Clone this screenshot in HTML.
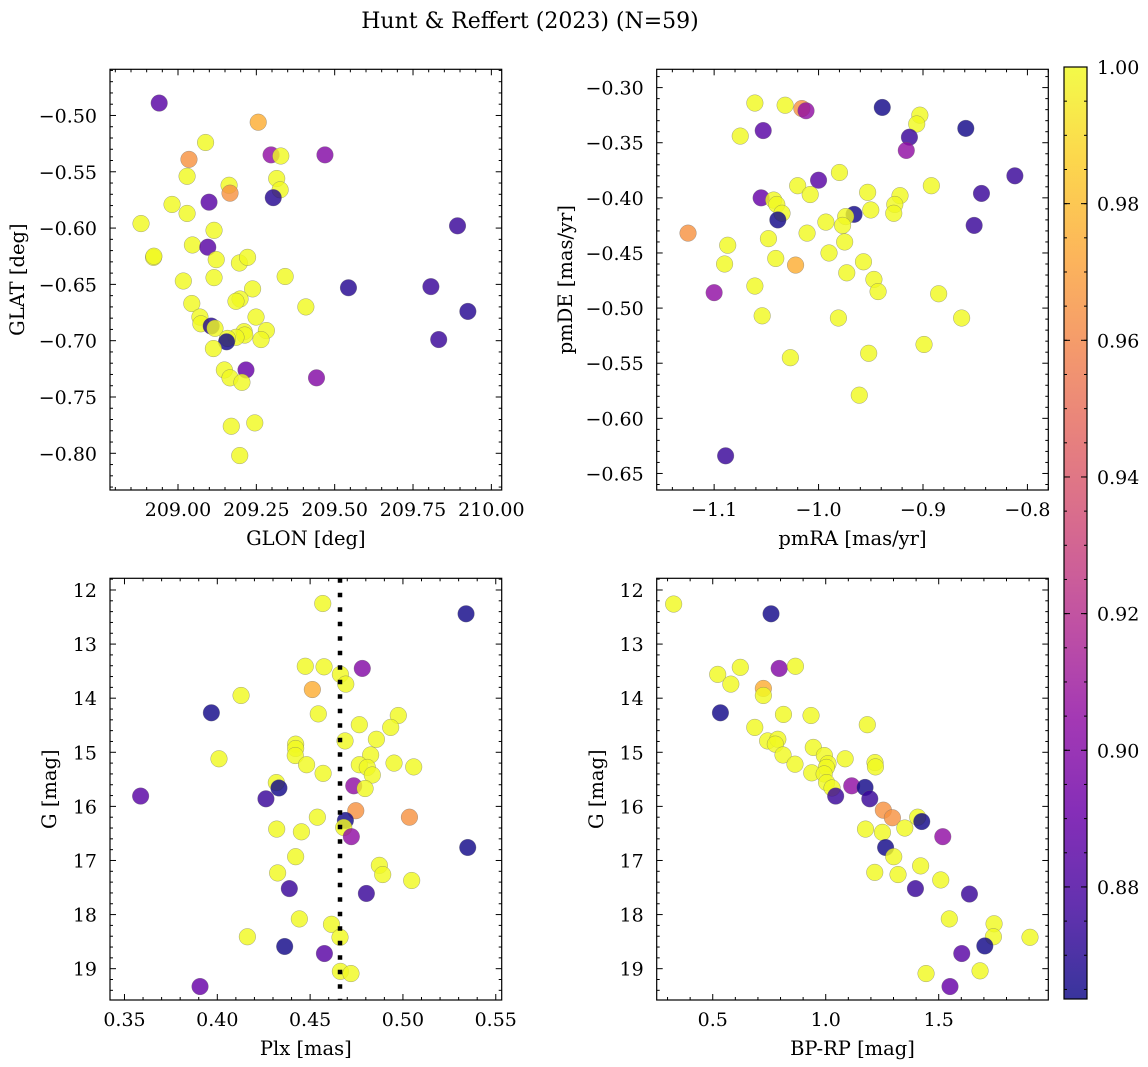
<!DOCTYPE html>
<html><head><meta charset="utf-8"><style>
html,body{margin:0;padding:0;background:#fff;}
svg{display:block;font-family:"DejaVu Serif","Liberation Serif",serif;}
</style></head><body>
<svg id="fig" width="1148" height="1067" viewBox="0 0 1148 1067" xmlns="http://www.w3.org/2000/svg">
<text x="530" y="28" font-size="22" text-anchor="middle">Hunt &amp; Reffert (2023) (N=59)</text>
</svg>
<script>
// ---- data: GLON / GLAT panel ----
const tlGlon=[208.940,209.256,209.088,209.035,209.297,209.328,209.469,209.029,209.315,209.163,209.166,209.326,209.304,209.099,208.981,209.029,208.882,209.115,209.892,209.046,209.095,208.922,209.122,209.196,209.222,209.115,209.017,209.342,209.544,209.807,209.238,209.198,209.185,209.044,209.408,209.925,209.249,209.070,209.073,209.106,209.118,209.282,209.211,209.213,209.185,209.158,209.155,209.265,209.832,209.113,209.148,209.217,209.166,209.204,209.442,209.170,209.245,209.197,208.923];
const tlGlat=[-0.489,-0.506,-0.524,-0.539,-0.535,-0.536,-0.535,-0.554,-0.556,-0.562,-0.569,-0.566,-0.573,-0.577,-0.579,-0.587,-0.596,-0.602,-0.598,-0.615,-0.617,-0.626,-0.628,-0.631,-0.626,-0.644,-0.647,-0.643,-0.653,-0.652,-0.654,-0.663,-0.665,-0.667,-0.670,-0.674,-0.679,-0.679,-0.685,-0.687,-0.689,-0.691,-0.692,-0.695,-0.697,-0.698,-0.701,-0.699,-0.699,-0.707,-0.726,-0.726,-0.733,-0.737,-0.733,-0.776,-0.773,-0.802,-0.625];
const tlProb=[0.885,0.975,1,0.965,0.905,1,0.9,1,1,1,0.965,1,0.87,0.885,1,1,1,1,0.875,1,0.885,1,1,1,1,1,1,1,0.87,0.875,1,1,1,1,1,0.87,1,1,1,0.87,1,1,1,1,1,1,0.865,1,0.875,1,1,0.89,1,1,0.9,1,1,1,1];
// ---- data: pmRA / pmDE panel ----
const trPmra=[-1.061,-1.032,-1.016,-1.012,-0.939,-0.903,-0.906,-1.075,-1.053,-0.913,-0.859,-0.916,-0.980,-1.000,-0.812,-1.020,-0.892,-1.008,-0.953,-0.844,-1.055,-1.043,-1.040,-0.922,-0.927,-1.035,-1.039,-0.928,-0.950,-0.966,-0.974,-0.977,-0.993,-0.851,-1.125,-1.011,-1.048,-0.975,-1.087,-0.990,-1.041,-1.090,-1.022,-0.957,-0.973,-0.947,-0.943,-1.061,-1.100,-0.885,-1.054,-0.981,-0.863,-0.899,-1.027,-0.952,-0.961,-1.089];
const trPmde=[-0.314,-0.316,-0.319,-0.321,-0.318,-0.325,-0.333,-0.344,-0.339,-0.345,-0.337,-0.357,-0.377,-0.384,-0.380,-0.389,-0.389,-0.397,-0.395,-0.396,-0.400,-0.402,-0.406,-0.398,-0.406,-0.414,-0.420,-0.414,-0.411,-0.415,-0.417,-0.425,-0.422,-0.425,-0.432,-0.432,-0.437,-0.440,-0.443,-0.450,-0.455,-0.460,-0.461,-0.458,-0.468,-0.474,-0.485,-0.480,-0.486,-0.487,-0.507,-0.509,-0.509,-0.533,-0.545,-0.541,-0.579,-0.634];
const trProb=[1,1,0.965,0.905,0.865,1,1,1,0.885,0.875,0.865,0.905,1,0.885,0.875,1,1,1,1,0.875,0.89,1,1,1,1,1,0.865,1,1,0.865,1,1,1,0.875,0.965,1,1,1,1,1,1,1,0.975,1,1,1,1,1,0.905,1,1,1,1,1,1,1,1,0.875];
// ---- data: Plx / G panel ----
const blPlx=[0.4568,0.5340,0.4474,0.4575,0.4781,0.4663,0.4692,0.4512,0.4128,0.3968,0.4544,0.4975,0.4765,0.4934,0.4688,0.4857,0.4422,0.4422,0.4420,0.4826,0.4009,0.4481,0.4765,0.4808,0.4952,0.5058,0.4835,0.4570,0.4318,0.4332,0.4735,0.4796,0.3587,0.4262,0.4746,0.5035,0.4539,0.4690,0.4681,0.4320,0.4453,0.4722,0.5349,0.4422,0.4873,0.4891,0.4325,0.5047,0.4388,0.4803,0.4442,0.4615,0.4162,0.4661,0.4363,0.4577,0.4663,0.4720,0.3907];
const blG=[12.25,12.44,13.41,13.42,13.45,13.56,13.74,13.84,13.95,14.27,14.29,14.32,14.49,14.54,14.79,14.76,14.85,14.93,15.06,15.05,15.12,15.23,15.23,15.28,15.20,15.27,15.42,15.39,15.56,15.66,15.62,15.67,15.81,15.86,16.08,16.20,16.20,16.26,16.39,16.42,16.47,16.56,16.76,16.93,17.09,17.26,17.23,17.37,17.52,17.61,18.08,18.18,18.41,18.42,18.59,18.72,19.05,19.09,19.33];
const blProb=[1,0.865,1,1,0.9,1,1,0.975,1,0.865,1,1,1,1,1,1,1,1,1,1,1,1,1,1,1,1,1,1,1,0.865,0.905,1,0.885,0.875,0.965,0.965,1,0.865,1,1,1,0.905,0.865,1,1,1,1,1,0.875,0.875,1,1,1,1,0.865,0.885,1,1,0.89];
const plxMean=[0.4661];
// ---- data: BP-RP / G panel ----
const brBprp=[0.327,0.758,0.522,0.580,0.622,0.794,0.866,0.724,0.724,0.534,0.813,0.935,1.184,0.686,0.743,0.788,0.777,0.811,0.864,0.945,0.994,1.086,1.010,1.003,1.218,1.220,0.938,0.993,1.004,1.028,1.044,1.115,1.174,1.195,1.255,1.295,1.407,1.425,1.176,1.251,1.350,1.518,1.265,1.301,1.420,1.217,1.320,1.509,1.397,1.636,1.547,1.745,1.742,1.904,1.704,1.602,1.444,1.683,1.550];
const brG=[12.26,12.44,13.56,13.74,13.43,13.45,13.41,13.82,13.95,14.27,14.30,14.32,14.49,14.54,14.79,14.76,14.85,15.05,15.22,14.91,15.06,15.12,15.21,15.28,15.19,15.27,15.38,15.40,15.56,15.66,15.81,15.62,15.65,15.86,16.07,16.21,16.20,16.28,16.42,16.48,16.40,16.56,16.76,16.93,17.10,17.22,17.26,17.36,17.52,17.62,18.08,18.17,18.41,18.42,18.58,18.72,19.09,19.04,19.33];
const brProb=[1,0.865,1,1,1,0.9,1,0.975,1,0.865,1,1,1,1,1,1,1,1,1,1,1,1,1,1,1,1,1,1,1,1,0.875,0.905,0.865,0.875,0.965,0.965,1,0.865,1,1,1,0.905,0.865,1,1,1,1,1,0.875,0.875,1,1,1,1,0.865,0.885,1,1,0.89];
// ---- colorbar ----
const cbMin=0.8636, cbMax=1.0;
const cbTicks=[0.88,0.90,0.92,0.94,0.96,0.98,1.00];

const NS="http://www.w3.org/2000/svg";
const svg=document.getElementById('fig');
function mk(tag,attrs,parent){const e=document.createElementNS(NS,tag);for(const k in attrs)e.setAttribute(k,attrs[k]);(parent||svg).appendChild(e);return e;}
const stops=[[13,8,135],[65,4,157],[106,0,168],[143,13,164],[177,42,144],[204,71,120],[225,100,98],[242,132,75],[252,166,54],[252,206,37],[240,249,33]];
function plasma(t){t=Math.max(0,Math.min(1,t));const p=t*10,i=Math.min(9,Math.floor(p)),f=p-i;const a=stops[i],b=stops[i+1];return 'rgb('+a.map((v,j)=>Math.round(v+(b[j]-v)*f)).join(',')+')';}
function fmt(v,d){const s=Math.abs(v).toFixed(d);return (v<-1e-9?'\u2212':'')+s;}

function panel(c,xs,ys,cs,name){
  const g=mk('g',{});
  
  
  const X=v=>c.x0+(v-c.xmin)/(c.xmax-c.xmin)*(c.x1-c.x0);
  const Y=v=>c.y0+(v-c.yTop)/(c.yBot-c.yTop)*(c.y1-c.y0);
  for(let i=0;i<xs.length;i++){
    const p=mk('circle',{cx:X(xs[i]),cy:Y(ys[i]),r:8.3,fill:plasma((cs[i]-cbMin)/(cbMax-cbMin)),'fill-opacity':0.82,stroke:'#666','stroke-width':0.5,'stroke-opacity':0.6},g);
    
    
  }
  if(c.vline!==undefined){
    const l=mk('line',{x1:X(c.vline),x2:X(c.vline),y1:c.y0,y2:c.y1,stroke:'#000','stroke-width':4.5,'stroke-dasharray':'4.5 10'},g);
    
    
  }
  const fr=mk('rect',{x:c.x0,y:c.y0,width:c.x1-c.x0,height:c.y1-c.y0,fill:'none',stroke:'#000','stroke-width':1.2},g);
  
  
  const lo=Math.min(c.xmin,c.xmax),hi=Math.max(c.xmin,c.xmax);
  for(let k=Math.ceil(lo/c.xminor-1e-6);k*c.xminor<=hi+1e-9;k++){
    const v=k*c.xminor,px=X(v);
    const major=Math.abs(v/c.xmajor-Math.round(v/c.xmajor))<1e-6;
    const L=major?6:3;
    mk('line',{x1:px,x2:px,y1:c.y1,y2:c.y1-L,stroke:'#000','stroke-width':1},g);
    mk('line',{x1:px,x2:px,y1:c.y0,y2:c.y0+L,stroke:'#000','stroke-width':1},g);
    if(major){const t=mk('text',{x:px,y:c.y1+26,'font-size':19,'text-anchor':'middle'},g);t.textContent=fmt(v,c.xdec);
      }
  }
  const ylo=Math.min(c.yTop,c.yBot),yhi=Math.max(c.yTop,c.yBot);
  for(let k=Math.ceil(ylo/c.yminor-1e-6);k*c.yminor<=yhi+1e-9;k++){
    const v=k*c.yminor,py=Y(v);
    const major=Math.abs(v/c.ymajor-Math.round(v/c.ymajor))<1e-6;
    const L=major?6:3;
    mk('line',{x1:c.x0,x2:c.x0+L,y1:py,y2:py,stroke:'#000','stroke-width':1},g);
    mk('line',{x1:c.x1,x2:c.x1-L,y1:py,y2:py,stroke:'#000','stroke-width':1},g);
    if(major){const t=mk('text',{x:c.x0-13,y:py+7,'font-size':19,'text-anchor':'end'},g);t.textContent=fmt(v,c.ydec);
      }
  }
  const xl=mk('text',{x:(c.x0+c.x1)/2,y:c.y1+55,'font-size':19.5,'text-anchor':'middle'},g);xl.textContent=c.xlabel;
  
  const yc=(c.y0+c.y1)/2;
  const yl=mk('text',{x:c.ylx,y:yc,'font-size':19.5,'text-anchor':'middle',transform:'rotate(-90 '+c.ylx+' '+yc+')'},g);yl.textContent=c.ylabel;
  
}

panel({x0:110,x1:501.7,y0:69.3,y1:490,xmin:208.783,xmax:210.033,yTop:-0.459,yBot:-0.8326,xmajor:0.25,xminor:0.05,xdec:2,ymajor:0.05,yminor:0.01,ydec:2,xlabel:'GLON [deg]',ylabel:'GLAT [deg]',ylx:24},tlGlon,tlGlat,tlProb,'glon-glat-panel');
panel({x0:656.7,x1:1048.3,y0:69.3,y1:490,xmin:-1.155,xmax:-0.780,yTop:-0.2834,yBot:-0.665,xmajor:0.1,xminor:0.02,xdec:1,ymajor:0.05,yminor:0.01,ydec:2,xlabel:'pmRA [mas/yr]',ylabel:'pmDE [mas/yr]',ylx:572},trPmra,trPmde,trProb,'pm-panel');
panel({x0:110,x1:501.7,y0:578.3,y1:1000,xmin:0.3422,xmax:0.5532,yTop:11.784,yBot:19.579,xmajor:0.05,xminor:0.01,xdec:2,ymajor:1,yminor:0.2,ydec:0,xlabel:'Plx [mas]',ylabel:'G [mag]',ylx:56,vline:plxMean[0]},blPlx,blG,blProb,'plx-g-panel');
panel({x0:656.7,x1:1048.3,y0:578.3,y1:1000,xmin:0.252,xmax:1.985,yTop:11.784,yBot:19.579,xmajor:0.5,xminor:0.1,xdec:1,ymajor:1,yminor:0.2,ydec:0,xlabel:'BP-RP [mag]',ylabel:'G [mag]',ylx:603},brBprp,brG,brProb,'cmd-panel');

(function(){
  const x0=1064,x1=1087,y0=67,y1=999;
  const defs=mk('defs',{});
  const lg=mk('linearGradient',{id:'cbg',x1:0,y1:1,x2:0,y2:0},defs);
  for(let i=0;i<=20;i++){const c=plasma(i/20);mk('stop',{offset:(i/20),'stop-color':c,'stop-opacity':0.82},lg);}
  const g=mk('g',{});
  
  
  mk('rect',{x:x0,y:y0,width:x1-x0,height:y1-y0,fill:'url(#cbg)'},g);
  mk('rect',{x:x0,y:y0,width:x1-x0,height:y1-y0,fill:'none',stroke:'#000','stroke-width':1.2},g);
  const Y=v=>y1-(v-cbMin)/(cbMax-cbMin)*(y1-y0);
  for(let k=Math.ceil(cbMin/0.005-1e-6);k*0.005<=cbMax+1e-9;k++){
    const v=k*0.005,py=Y(v);
    mk('line',{x1:x1,x2:x1-3,y1:py,y2:py,stroke:'#000','stroke-width':1},g);
    mk('line',{x1:x0,x2:x0+3,y1:py,y2:py,stroke:'#000','stroke-width':1},g);
  }
  cbTicks.forEach(v=>{const py=Y(v);
    mk('line',{x1:x1,x2:x1-6,y1:py,y2:py,stroke:'#000','stroke-width':1},g);
    mk('line',{x1:x0,x2:x0+6,y1:py,y2:py,stroke:'#000','stroke-width':1},g);
    const t=mk('text',{x:x1+10,y:py+7,'font-size':19},g);t.textContent=v.toFixed(2);
    
  });
})();
</script>
</body></html>
